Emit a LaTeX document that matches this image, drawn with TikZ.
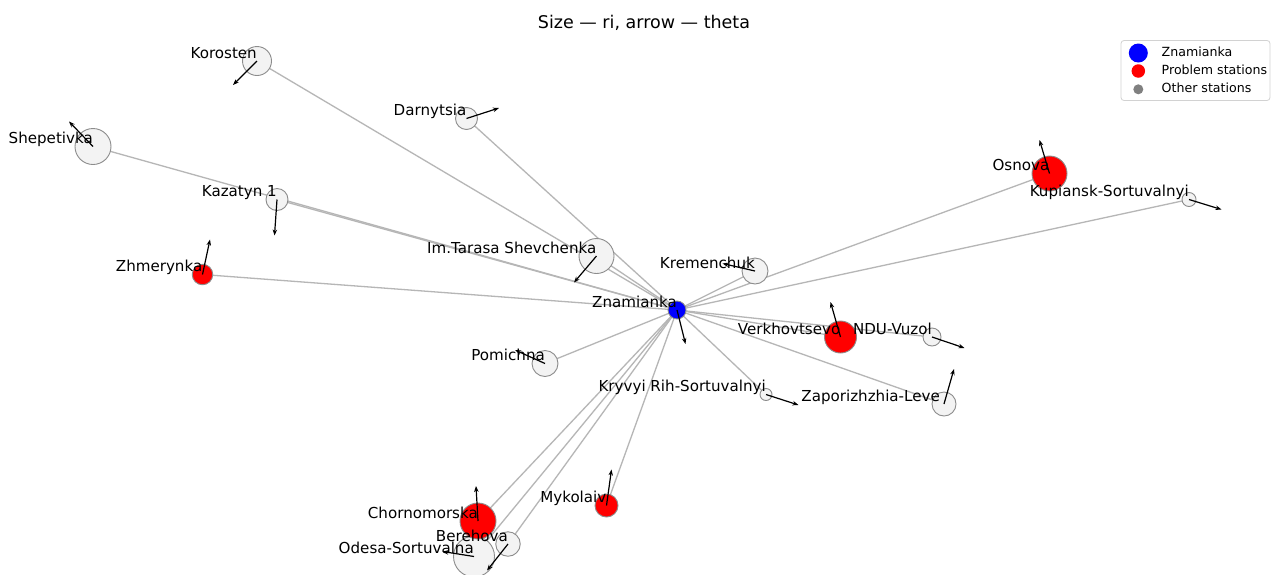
\documentclass[tikz,border=0pt]{standalone}
\usepackage{fontspec}
\setmainfont{DejaVu Sans}
\usetikzlibrary{arrows.meta}
\pgfdeclarelayer{bg}
\pgfsetlayers{bg,main}
\definecolor{edgegray}{RGB}{182,182,182}
\definecolor{nodefill}{RGB}{243,243,243}
\definecolor{nodeline}{RGB}{140,140,140}
\definecolor{legline}{RGB}{210,210,210}
\tikzset{
  station/.style={circle, draw=nodeline, line width=0.9pt, inner sep=0pt, fill=nodefill},
  problem/.style={station, fill=red},
  hub/.style={station, fill=blue},
  edge/.style={draw=edgegray, line width=1.3pt},
  vec/.style={draw=black, line width=1.2pt, -{Stealth[length=6pt,width=4.5pt]}},
  lbl/.style={anchor=south east, inner sep=0pt, text depth=0.236em, font=\fontsize{15.1}{18}\selectfont},
  legtext/.style={anchor=base west, inner sep=0pt, font=\fontsize{12.6}{15}\selectfont},
}
\begin{document}
\begin{tikzpicture}[x=1pt,y=-1pt]
\useasboundingbox (0,0) rectangle (1274,574);
\clip (0,0) rectangle (1274,574);
% title
\node[anchor=base, inner sep=0pt, font=\fontsize{17.5}{21}\selectfont] (title) at (644,28) {Size — ri, arrow — theta};
% stations
\node[hub, minimum size=18pt] (zna) at (677,310) {};
\node[station, minimum size=29pt] (kor) at (257,61) {};
\node[station, minimum size=36pt] (she) at (93,146.5) {};
\node[station, minimum size=22pt] (kaz) at (277,199.5) {};
\node[station, minimum size=22pt] (dar) at (466.5,118.5) {};
\node[station, minimum size=35pt] (tar) at (596.5,256) {};
\node[station, minimum size=26pt] (kre) at (755,271) {};
\node[problem, minimum size=35pt] (osn) at (1049.5,173.5) {};
\node[station, minimum size=14pt] (kup) at (1189,199.5) {};
\node[problem, minimum size=20.5pt] (zhm) at (202.5,274.5) {};
\node[problem, minimum size=32pt] (ver) at (840.5,337) {};
\node[station, minimum size=18pt] (ndu) at (932,337) {};
\node[station, minimum size=24pt] (zap) at (944,404) {};
\node[station, minimum size=12pt] (kry) at (766,394.5) {};
\node[station, minimum size=26pt] (pom) at (545,363.5) {};
\node[problem, minimum size=23pt] (myk) at (606.5,505.5) {};
\node[station, minimum size=41pt] (ode) at (474,556.5) {};
\node[station, minimum size=24.5pt] (ber) at (508,544) {};
\node[problem, minimum size=36pt] (cho) at (478,521) {};
% background and edges
\begin{pgfonlayer}{bg}
\fill[white] (0,0) rectangle (1274,574);
\foreach \n in {kor,she,kaz,dar,tar,kre,osn,kup,zhm,ver,ndu,zap,kry,pom,myk,cho,ber,ode}
  \draw[edge] (zna.center) -- (\n.center);
\end{pgfonlayer}
% arrow end points
\coordinate (zna-a) at (685.5,344);
\coordinate (kor-a) at (233,85);
\coordinate (she-a) at (69,121.5);
\coordinate (kaz-a) at (274.5,235.5);
\coordinate (dar-a) at (499,108);
\coordinate (tar-a) at (574,282.5);
\coordinate (kre-a) at (722.5,263.5);
\coordinate (osn-a) at (1039.5,140);
\coordinate (kup-a) at (1221.5,209.5);
\coordinate (zhm-a) at (210,239.5);
\coordinate (ver-a) at (830.5,302);
\coordinate (ndu-a) at (964.5,348);
\coordinate (zap-a) at (954,369);
\coordinate (kry-a) at (798.5,405);
\coordinate (pom-a) at (515,350);
\coordinate (myk-a) at (611.5,469.5);
\coordinate (cho-a) at (476,486);
\coordinate (ber-a) at (487,570.5);
\coordinate (ode-a) at (442.5,551.5);
\foreach \n in {zna,kor,she,kaz,dar,tar,kre,osn,kup,zhm,ver,ndu,zap,kry,pom,myk,cho,ber,ode}
  \draw[vec] (\n.center) -- (\n-a);
% labels
\node[lbl] (zna-l) at (zna.center) {Znamianka};
\node[lbl] (kor-l) at (kor.center) {Korosten};
\node[lbl] (she-l) at (she.center) {Shepetivka};
\node[lbl] (kaz-l) at (kaz.center) {Kazatyn 1};
\node[lbl] (dar-l) at (dar.center) {Darnytsia};
\node[lbl] (tar-l) at (tar.center) {Im.Tarasa Shevchenka};
\node[lbl] (kre-l) at (kre.center) {Kremenchuk};
\node[lbl] (osn-l) at (osn.center) {Osnova};
\node[lbl] (kup-l) at (kup.center) {Kupiansk-Sortuvalnyi};
\node[lbl] (zhm-l) at (zhm.center) {Zhmerynka};
\node[lbl] (ver-l) at (ver.center) {Verkhovtsevo};
\node[lbl] (ndu-l) at (ndu.center) {NDU-Vuzol};
\node[lbl] (zap-l) at ([xshift=-4pt]zap.center) {Zaporizhzhia-Leve};
\node[lbl] (kry-l) at (kry.center) {Kryvyi Rih-Sortuvalnyi};
\node[lbl] (pom-l) at (pom.center) {Pomichna};
\node[lbl] (myk-l) at (myk.center) {Mykolaiv};
\node[lbl] (cho-l) at (cho.center) {Chornomorska};
\node[lbl] (ber-l) at (ber.center) {Berehova};
\node[lbl] (ode-l) at (ode.center) {Odesa-Sortuvalna};
% legend
\draw[draw=legline, fill=white, line width=0.8pt, rounded corners=3pt] (1121,40.5) rectangle (1270,100.5);
\node[circle, fill=blue, inner sep=0pt, minimum size=19pt] (lg1) at (1138.3,53) {};
\node[circle, fill=red, inner sep=0pt, minimum size=13.5pt] (lg2) at (1138.3,71) {};
\node[circle, fill=gray, inner sep=0pt, minimum size=10pt] (lg3) at (1138.3,89.3) {};
\node[legtext] (lt1) at (1161.5,56.7) {Znamianka};
\node[legtext] (lt2) at (1161.5,74.5) {Problem stations};
\node[legtext] (lt3) at (1161.5,92.5) {Other stations};
\end{tikzpicture}
\end{document}
